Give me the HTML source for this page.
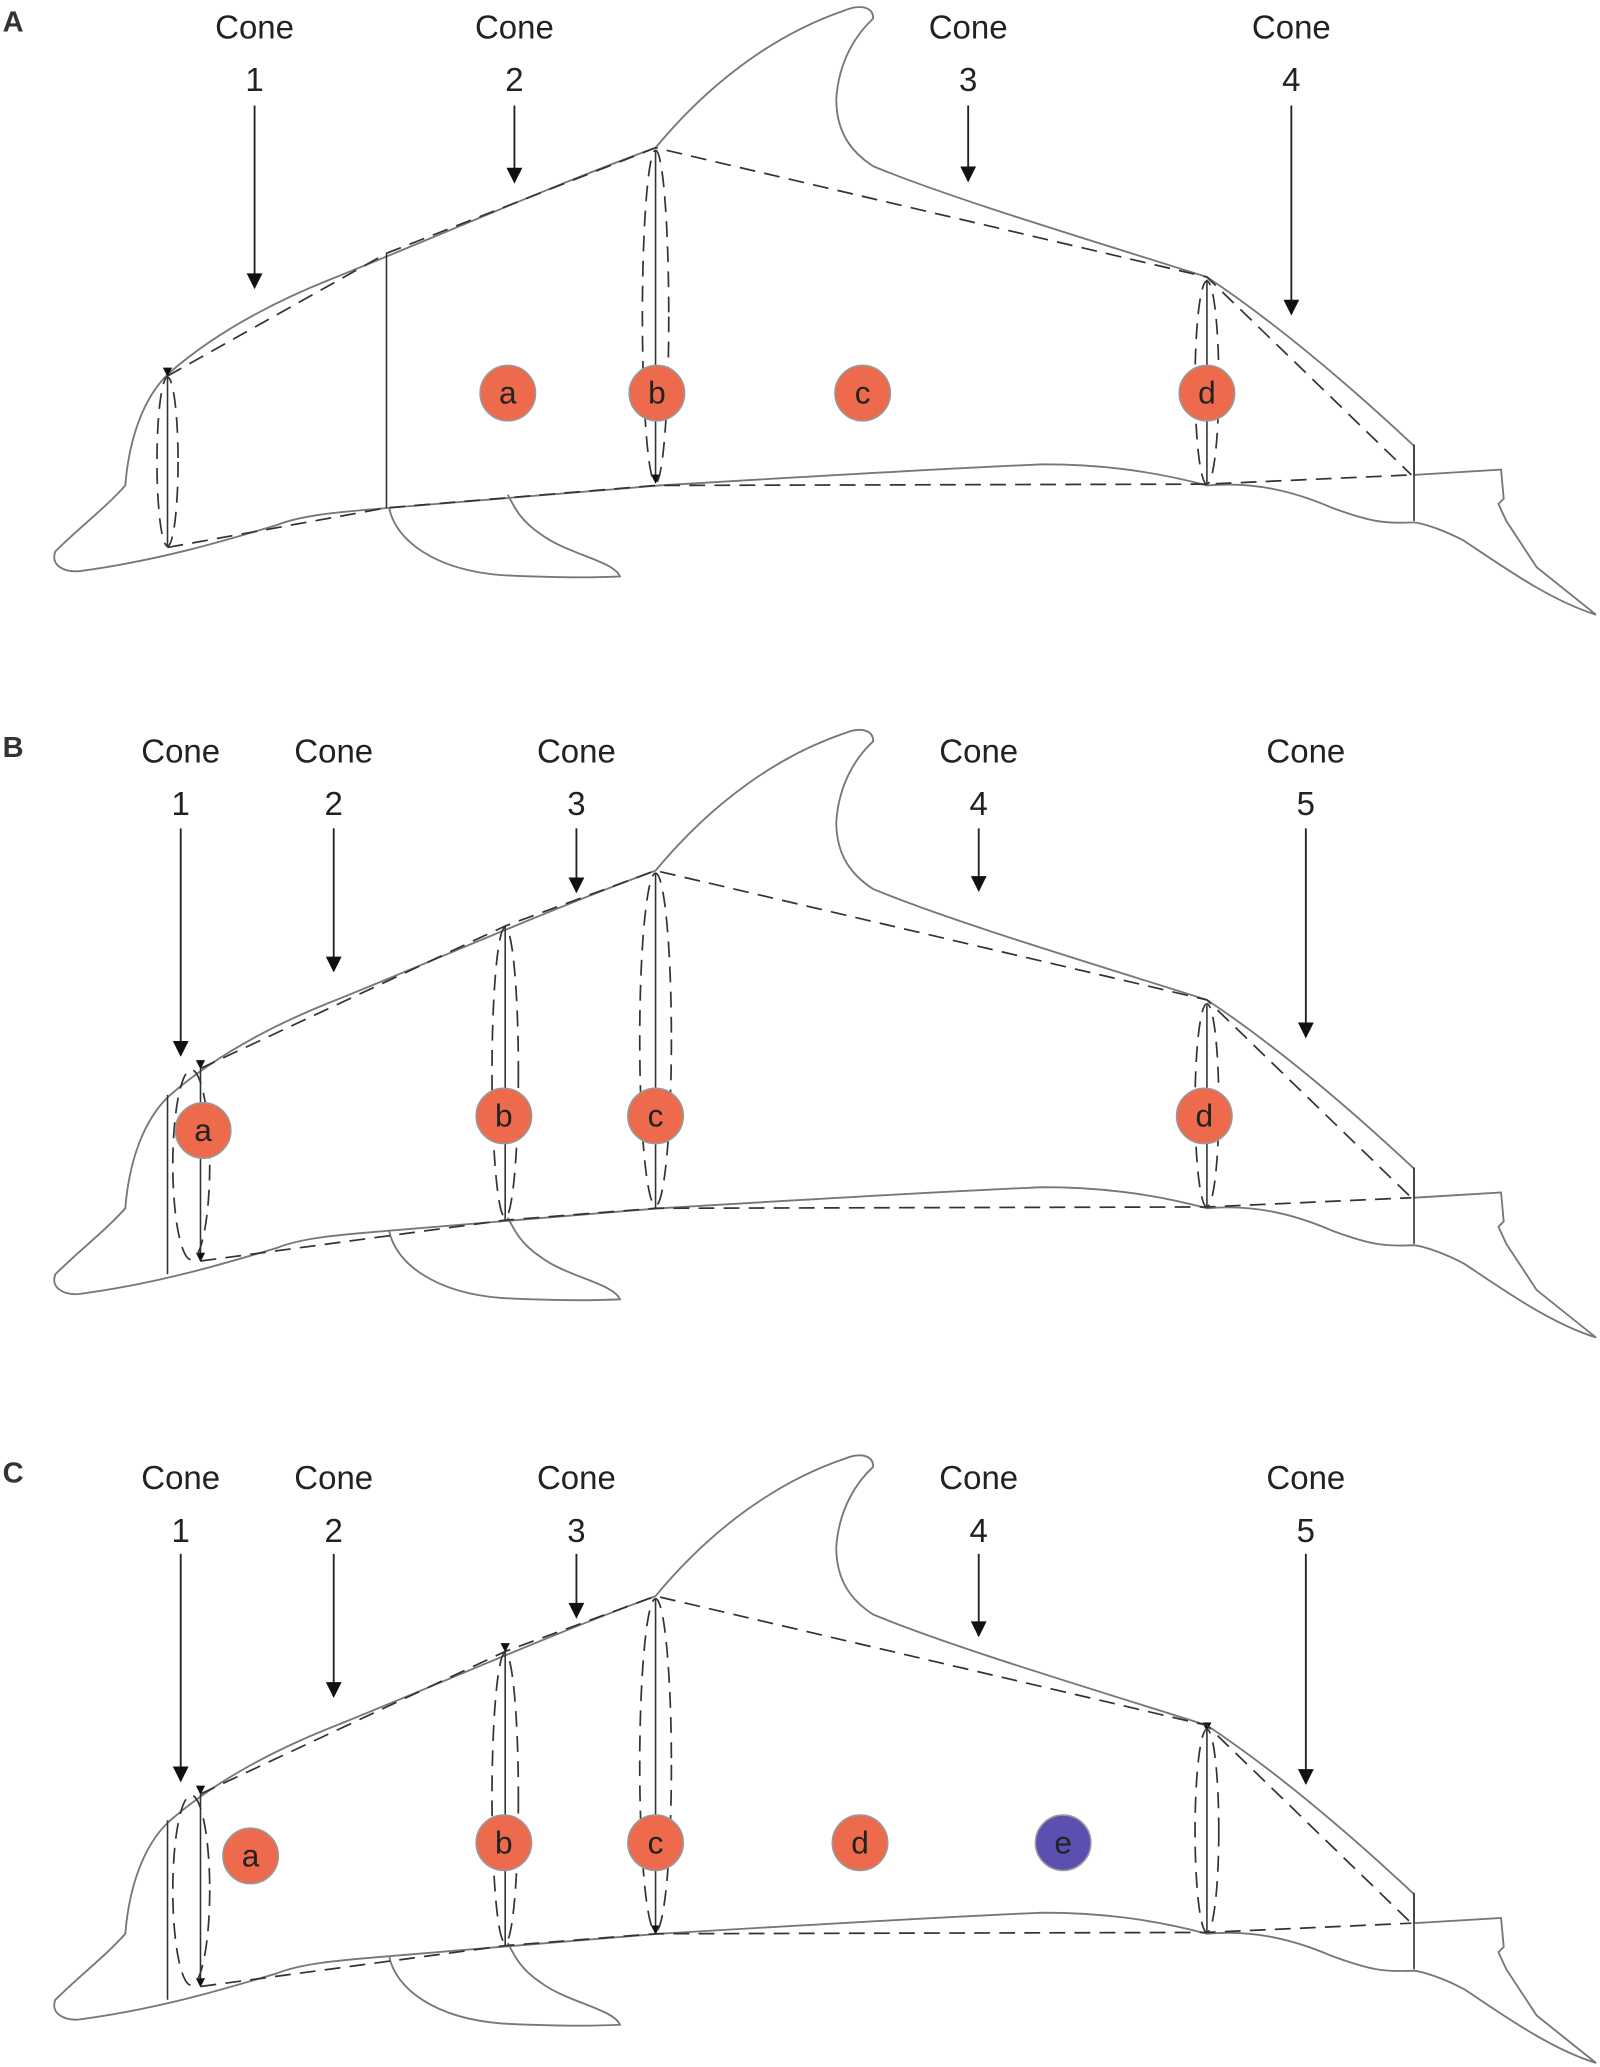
<!DOCTYPE html>
<html><head><meta charset="utf-8"><style>
html,body{margin:0;padding:0;background:#fff;}
svg{display:block;}
text{font-family:"Liberation Sans",sans-serif;fill:#222;}
</style></head><body>
<svg width="1600" height="2067" viewBox="0 0 1213 1567" xmlns="http://www.w3.org/2000/svg">
<defs>
<marker id="ar" viewBox="0 0 10 10" refX="9" refY="5" markerWidth="7" markerHeight="7" orient="auto" markerUnits="userSpaceOnUse"><path d="M0,0 L10,5 L0,10z" fill="#111"/></marker>
<marker id="big" viewBox="0 0 10 10" refX="9" refY="5" markerWidth="13" markerHeight="12" orient="auto" markerUnits="userSpaceOnUse"><path d="M0,0 L10,5 L0,10z" fill="#111"/></marker>
<g id="body" fill="none" stroke="#777" stroke-width="1.4">
<path d="M60,433 C48,434 38,428 42,418 C60,400 80,385 95,368 C98,330 110,300 128,283 C160,255 200,232 250,212 C330,180 420,140 497,112 C540,60 590,25 640,8 C652,3 662,5 662,14 C650,25 636,45 634,75 C634,100 645,115 662,126 C720,150 820,180 915,210 C960,240 1010,280 1072,338 L1072,360 L1138,356 L1140,378 L1136,382 L1142,395 L1165,430 L1210,466 C1175,455 1140,430 1110,410 C1095,402 1080,397 1072,396 C1050,397 1040,396 1010,385 C980,372 950,365 915,368 C870,356 830,352 790,352 C700,356 600,362 500,368 C420,374 350,380 295,385 C260,388 230,390 210,398 C170,410 120,425 60,433 Z"/>
<path d="M295,385 C300,410 330,432 380,436 C420,438 450,438 470,437 C465,425 430,420 410,405 C395,395 390,385 385,375"/>
</g>
</defs>

<g>
<use href="#body"/>
<g stroke="#333" stroke-width="1.2" fill="none">
<line x1="127" y1="285" x2="127" y2="415" marker-start="url(#ar)"/>
<line x1="293" y1="192" x2="293" y2="385"/>
<line x1="497" y1="114" x2="497" y2="366" marker-end="url(#ar)"/>
<line x1="915" y1="212" x2="915" y2="367"/>
<line x1="1072" y1="337" x2="1072" y2="395"/>
</g>
<g stroke="#333" stroke-width="1.3" fill="none" stroke-dasharray="12,7">
<path d="M127,285 L293,192 L497,112 L915,210 L1070,360"/>
<path d="M127,415 L293,385 L497,368 L915,367 L1070,360"/>
<ellipse cx="127" cy="350" rx="8" ry="64"/>
<ellipse cx="497" cy="240" rx="10" ry="126"/>
<ellipse cx="915" cy="290" rx="9" ry="77"/>
</g>
</g>

<g transform="translate(0,548)">
<use href="#body"/>
<g stroke="#333" stroke-width="1.2" fill="none">
<line x1="127" y1="282" x2="127" y2="418"/>
<line x1="152" y1="262" x2="152" y2="408" marker-start="url(#ar)" marker-end="url(#ar)"/>
<line x1="383" y1="154" x2="383" y2="377"/>
<line x1="497" y1="114" x2="497" y2="368"/>
<line x1="915" y1="214" x2="915" y2="367"/>
<line x1="1072" y1="337" x2="1072" y2="395"/>
</g>
<g stroke="#333" stroke-width="1.3" fill="none" stroke-dasharray="12,7">
<path d="M152,262 L383,154 L497,112 L915,210 L1070,360"/>
<path d="M152,408 L383,377 L497,368 L915,367 L1070,360"/>
<ellipse cx="145" cy="335" rx="14" ry="72"/>
<ellipse cx="383" cy="265" rx="10" ry="110"/>
<ellipse cx="497" cy="240" rx="12" ry="126"/>
<ellipse cx="915" cy="290" rx="9" ry="77"/>
</g>
</g>

<g transform="translate(0,1098)">
<use href="#body"/>
<g stroke="#333" stroke-width="1.2" fill="none">
<line x1="127" y1="282" x2="127" y2="418"/>
<line x1="152" y1="262" x2="152" y2="408" marker-start="url(#ar)" marker-end="url(#ar)"/>
<line x1="383" y1="154" x2="383" y2="377" marker-start="url(#ar)"/>
<line x1="497" y1="114" x2="497" y2="368" marker-end="url(#ar)"/>
<line x1="915" y1="214" x2="915" y2="367" marker-start="url(#ar)"/>
<line x1="1072" y1="337" x2="1072" y2="395"/>
</g>
<g stroke="#333" stroke-width="1.3" fill="none" stroke-dasharray="12,7">
<path d="M152,262 L383,154 L497,112 L915,210 L1070,360"/>
<path d="M152,408 L383,377 L497,368 L915,367 L1070,360"/>
<ellipse cx="145" cy="335" rx="14" ry="72"/>
<ellipse cx="383" cy="265" rx="10" ry="110"/>
<ellipse cx="497" cy="240" rx="12" ry="126"/>
<ellipse cx="915" cy="290" rx="9" ry="77"/>
</g>
</g>

<g stroke="#999" stroke-width="1.2" fill="#ee6a4c">
<circle cx="385" cy="298" r="21"/><circle cx="498" cy="298" r="21"/><circle cx="654" cy="298" r="21"/><circle cx="915" cy="298" r="21"/>
<circle cx="154" cy="857" r="21"/><circle cx="382" cy="846" r="21"/><circle cx="497" cy="846" r="21"/><circle cx="913" cy="846" r="21"/>
<circle cx="190" cy="1407" r="21"/><circle cx="382" cy="1397" r="21"/><circle cx="497" cy="1397" r="21"/><circle cx="652" cy="1397" r="21"/>
<circle cx="806" cy="1397" r="21" fill="#5b4fb0"/>
</g>
<g font-size="24" text-anchor="middle">
<text x="385" y="306">a</text><text x="498" y="306">b</text><text x="654" y="306">c</text><text x="915" y="306">d</text>
<text x="154" y="865">a</text><text x="382" y="854">b</text><text x="497" y="854">c</text><text x="913" y="854">d</text>
<text x="190" y="1415">a</text><text x="382" y="1405">b</text><text x="497" y="1405">c</text><text x="652" y="1405">d</text><text x="806" y="1405">e</text>
</g>

<g font-size="22" font-weight="bold">
<text x="2" y="24" style="fill:#333">A</text>
<text x="2" y="574" style="fill:#333">B</text>
<text x="2" y="1124" style="fill:#333">C</text>
</g>

<g font-size="25" text-anchor="middle">
<text x="193" y="29">Cone</text><text x="193" y="69">1</text>
<text x="390" y="29">Cone</text><text x="390" y="69">2</text>
<text x="734" y="29">Cone</text><text x="734" y="69">3</text>
<text x="979" y="29">Cone</text><text x="979" y="69">4</text>
<text x="137" y="578">Cone</text><text x="137" y="618">1</text>
<text x="253" y="578">Cone</text><text x="253" y="618">2</text>
<text x="437" y="578">Cone</text><text x="437" y="618">3</text>
<text x="742" y="578">Cone</text><text x="742" y="618">4</text>
<text x="990" y="578">Cone</text><text x="990" y="618">5</text>
<text x="137" y="1129">Cone</text><text x="137" y="1169">1</text>
<text x="253" y="1129">Cone</text><text x="253" y="1169">2</text>
<text x="437" y="1129">Cone</text><text x="437" y="1169">3</text>
<text x="742" y="1129">Cone</text><text x="742" y="1169">4</text>
<text x="990" y="1129">Cone</text><text x="990" y="1169">5</text>
</g>
<g stroke="#222" stroke-width="1.4">
<line x1="193" y1="80" x2="193" y2="218" marker-end="url(#big)"/>
<line x1="390" y1="80" x2="390" y2="138" marker-end="url(#big)"/>
<line x1="734" y1="80" x2="734" y2="137" marker-end="url(#big)"/>
<line x1="979" y1="80" x2="979" y2="238" marker-end="url(#big)"/>
<line x1="137" y1="628" x2="137" y2="800" marker-end="url(#big)"/>
<line x1="253" y1="628" x2="253" y2="736" marker-end="url(#big)"/>
<line x1="437" y1="628" x2="437" y2="676" marker-end="url(#big)"/>
<line x1="742" y1="628" x2="742" y2="675" marker-end="url(#big)"/>
<line x1="990" y1="628" x2="990" y2="786" marker-end="url(#big)"/>
<line x1="137" y1="1178" x2="137" y2="1350" marker-end="url(#big)"/>
<line x1="253" y1="1178" x2="253" y2="1286" marker-end="url(#big)"/>
<line x1="437" y1="1178" x2="437" y2="1226" marker-end="url(#big)"/>
<line x1="742" y1="1178" x2="742" y2="1240" marker-end="url(#big)"/>
<line x1="990" y1="1178" x2="990" y2="1352" marker-end="url(#big)"/>
</g>
</svg>
</body></html>
